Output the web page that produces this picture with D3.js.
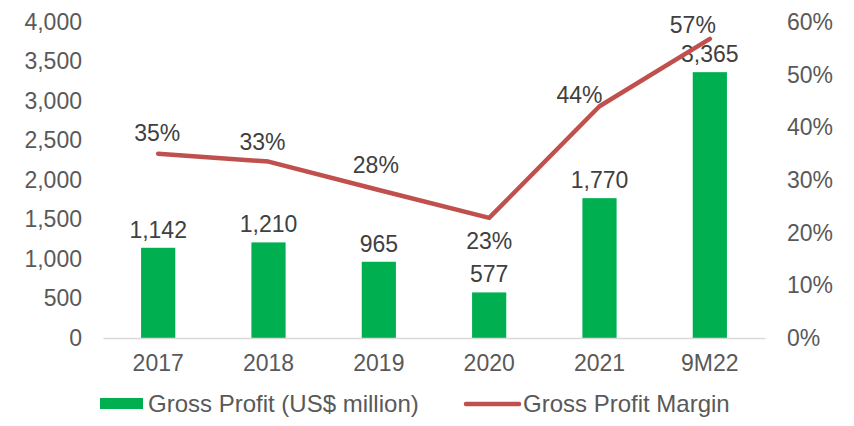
<!DOCTYPE html>
<html><head><meta charset="utf-8">
<script src="https://cdn.jsdelivr.net/npm/d3@7"></script>
<style>body{margin:0;background:#fff;} text{font-family:"Liberation Sans",Arial,sans-serif;}</style>
</head><body><svg id="c" width="854" height="426"></svg>
<script>
const categories = ["2017","2018","2019","2020","2021","9M22"];
const grossProfit = [1142, 1210, 965, 577, 1770, 3365];
const grossMargin = [0.35, 0.335, 0.281, 0.228, 0.44, 0.568];
const marginLabels = ["35%","33%","28%","23%","44%","57%"];
const leftTicks = [0,500,1000,1500,2000,2500,3000,3500,4000];
const rightTicks = [0,0.1,0.2,0.3,0.4,0.5,0.6];
const seriesNames = ["Gross Profit (US$ million)","Gross Profit Margin"];

// label offsets (layout only): dx, dy of label center relative to point
const marginLabelOffsets = [[-1,-21],[-6,-20],[-3,-25],[0,23],[-20,-11],[-17,-14]];

const svg = d3.select("#c");
const pL = 103, pR = 765, pT = 22, pB = 338;
const x = d3.scaleBand().domain(categories).range([pL,pR]).paddingInner(0.69).paddingOuter(0.345);
const y = d3.scaleLinear().domain([0,4000]).range([pB,pT]);
const y2 = d3.scaleLinear().domain([0,0.6]).range([pB,pT]);
const green = "#00B050", red = "#C0504D";
const tickColor = "#595959", labelColor = "#404040";
const fs = 23;
const ff = "'Liberation Sans',Arial,sans-serif";

// left axis
const la = svg.append("g").attr("transform",`translate(${pL},0)`)
  .call(d3.axisLeft(y).tickValues(leftTicks).tickFormat(d3.format(",")).tickSize(0).tickPadding(21));
la.select(".domain").remove();
la.selectAll("text").attr("fill",tickColor).style("font-size",fs+"px").style("font-family",ff);

// right axis
const ra = svg.append("g").attr("transform",`translate(${pR},0)`)
  .call(d3.axisRight(y2).tickValues(rightTicks).tickFormat(d3.format(".0%")).tickSize(0).tickPadding(22));
ra.select(".domain").remove();
ra.selectAll("text").attr("fill",tickColor).style("font-size",fs+"px").style("font-family",ff);

// bars
svg.append("g").selectAll("rect").data(grossProfit).join("rect")
  .attr("x",(d,i)=>x(categories[i])).attr("width",x.bandwidth())
  .attr("y",d=>y(d)).attr("height",d=>pB-y(d)).attr("fill",green);

// x axis baseline
const xa = svg.append("g").attr("transform",`translate(0,${pB})`)
  .call(d3.axisBottom(x).tickSize(0).tickPadding(17));
xa.select(".domain").attr("stroke","#D9D9D9").attr("stroke-width",1.5);
xa.selectAll("text").attr("fill",tickColor).style("font-size",fs+"px").style("font-family",ff);

// bar labels
svg.append("g").selectAll("text").data(grossProfit).join("text")
  .attr("x",(d,i)=>x(categories[i])+x.bandwidth()/2).attr("y",d=>y(d)-10)
  .attr("text-anchor","middle").attr("fill",labelColor).style("font-size",fs+"px")
  .text(d=>d3.format(",")(d));

// line
const cx = c => x(c)+x.bandwidth()/2;
const line = d3.line().x((d,i)=>cx(categories[i])).y(d=>y2(d));
svg.append("path").datum(grossMargin).attr("d",line).attr("fill","none")
  .attr("stroke",red).attr("stroke-width",4.5).attr("stroke-linecap","round").attr("stroke-linejoin","round");

// line labels
svg.append("g").selectAll("text").data(grossMargin).join("text")
  .attr("x",(d,i)=>cx(categories[i])+marginLabelOffsets[i][0])
  .attr("y",(d,i)=>y2(d)+marginLabelOffsets[i][1])
  .attr("dy","0.35em").attr("text-anchor","middle").attr("fill",labelColor).style("font-size",fs+"px")
  .text((d,i)=>marginLabels[i]);

// legend
const lfs = 24;
const lg = svg.append("g");
lg.append("rect").attr("x",100).attr("y",398).attr("width",43).attr("height",11).attr("fill",green);
lg.append("text").attr("x",148).attr("y",404).attr("dy","0.35em").attr("fill",tickColor).style("font-size",lfs+"px").text(seriesNames[0]);
lg.append("line").attr("x1",466).attr("x2",519).attr("y1",404).attr("y2",404).attr("stroke",red).attr("stroke-width",4.5).attr("stroke-linecap","round");
lg.append("text").attr("x",523).attr("y",404).attr("dy","0.35em").attr("fill",tickColor).style("font-size",lfs+"px").text(seriesNames[1]);
</script></body></html>
